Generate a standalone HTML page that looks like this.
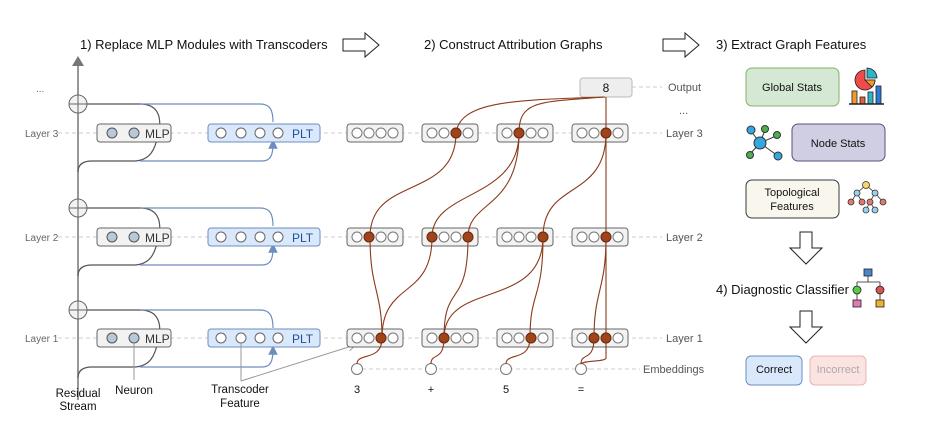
<!DOCTYPE html>
<html><head><meta charset="utf-8"><style>
html,body{margin:0;padding:0;background:#fff;}
svg{display:block;font-family:"Liberation Sans",Arial,sans-serif;}
</style></head><body>
<svg width="940" height="424" viewBox="0 0 940 424" xmlns="http://www.w3.org/2000/svg">
<defs>
<marker id="ab" markerWidth="8" markerHeight="8" refX="4" refY="4" orient="auto"><path d="M0,0 L8,4 L0,8 z" fill="#6c8ebf"/></marker>
<marker id="ag" markerWidth="8" markerHeight="8" refX="7" refY="4" orient="auto"><path d="M0,0 L8,4 L0,8" fill="none" stroke="#999"/></marker>
</defs>
<g font-size="13" fill="#111">
<text x="80" y="49">1) Replace MLP Modules with Transcoders</text>
<text x="424" y="49">2) Construct Attribution Graphs</text>
<text x="716" y="49">3) Extract Graph Features</text>
<text x="716" y="294">4) Diagnostic Classifier</text>
</g>
<g fill="#fff" stroke="#222" stroke-width="1">
<path d="M343,39 h22 v-6 l14,12 l-14,12 v-6 h-22z"/>
<path d="M663,39 h22 v-6 l14,12 l-14,12 v-6 h-22z"/>
<path d="M800,232 h12 v16 h10 l-16,16 l-16,-16 h10z"/>
<path d="M800,311 h12 v16 h10 l-16,16 l-16,-16 h10z"/>
</g>
<g stroke="#ccc" stroke-dasharray="4,3" stroke-width="1">
<line x1="58" y1="133" x2="662" y2="133"/>
<line x1="58" y1="237" x2="662" y2="237"/>
<line x1="58" y1="338" x2="662" y2="338"/>
<line x1="590" y1="369" x2="640" y2="369"/>
<line x1="355" y1="369" x2="590" y2="369"/>
<line x1="632" y1="87" x2="662" y2="87"/>
</g>
<g font-size="10" fill="#666">
<text x="25" y="137">Layer 3</text><text x="25" y="241">Layer 2</text><text x="25" y="342">Layer 1</text>
<text x="36" y="92">...</text>
</g>
<g font-size="11" fill="#555">
<text x="668" y="91">Output</text><text x="679" y="114">...</text>
<text x="666" y="137">Layer 3</text><text x="666" y="241">Layer 2</text><text x="666" y="342">Layer 1</text>
<text x="643" y="373">Embeddings</text>
</g>
<line x1="78" y1="400" x2="78" y2="62" stroke="#777" stroke-width="1.5"/>
<path d="M72,66 L78,56 L84,66z" fill="#777"/>
<g fill="none" stroke-width="1.2">
<path d="M87,104 H140 C160,104 162,120 158,135 C155,150 150,160 135,161 H92 C82,161 78,165 78,172" stroke="#555"/>
<path d="M140,104 H260 C270,104 273,110 273,122" stroke="#6c8ebf"/>
<path d="M140,161 H262 C270,161 273,156 273,144" stroke="#6c8ebf" marker-end="url(#ab)"/>
<path d="M87,208 H140 C160,208 162,224 158,239 C155,254 150,264 135,265 H92 C82,265 78,269 78,276" stroke="#555"/>
<path d="M140,208 H260 C270,208 273,214 273,226" stroke="#6c8ebf"/>
<path d="M140,265 H262 C270,265 273,260 273,248" stroke="#6c8ebf" marker-end="url(#ab)"/>
<path d="M87,310 H140 C160,310 162,326 158,341 C155,356 150,366 135,367 H92 C82,367 78,371 78,378" stroke="#555"/>
<path d="M140,310 H260 C270,310 273,316 273,328" stroke="#6c8ebf"/>
<path d="M140,367 H262 C270,367 273,362 273,350" stroke="#6c8ebf" marker-end="url(#ab)"/>
</g>
<g fill="#f2f2f2" stroke="#666" stroke-width="1">
<circle cx="78" cy="104" r="9"/><circle cx="78" cy="208" r="9"/><circle cx="78" cy="310" r="9"/>
</g>
<g stroke="#666" stroke-width="1"><path d="M69,104h18M78,95v18M69,208h18M78,199v18M69,310h18M78,301v18"/></g>
<g font-size="12">
<g>
<rect x="97" y="124" width="74" height="18" rx="3" fill="#f2f2f2" stroke="#666"/>
<circle cx="112" cy="133" r="5" fill="#b8c8d8" stroke="#555"/><circle cx="134" cy="133" r="5" fill="#b8c8d8" stroke="#555"/>
<text x="145" y="138" fill="#333">MLP</text>
<rect x="208" y="124" width="112" height="18" rx="3" fill="#dae8fc" stroke="#6c8ebf"/>
<circle cx="221" cy="133" r="5" fill="#fff" stroke="#666"/><circle cx="241" cy="133" r="5" fill="#fff" stroke="#666"/><circle cx="260" cy="133" r="5" fill="#fff" stroke="#666"/><circle cx="278" cy="133" r="5" fill="#fff" stroke="#666"/>
<text x="292" y="138" fill="#1f4e9a">PLT</text>
</g>
<g transform="translate(0,104)">
<rect x="97" y="124" width="74" height="18" rx="3" fill="#f2f2f2" stroke="#666"/>
<circle cx="112" cy="133" r="5" fill="#b8c8d8" stroke="#555"/><circle cx="134" cy="133" r="5" fill="#b8c8d8" stroke="#555"/>
<text x="145" y="138" fill="#333">MLP</text>
<rect x="208" y="124" width="112" height="18" rx="3" fill="#dae8fc" stroke="#6c8ebf"/>
<circle cx="221" cy="133" r="5" fill="#fff" stroke="#666"/><circle cx="241" cy="133" r="5" fill="#fff" stroke="#666"/><circle cx="260" cy="133" r="5" fill="#fff" stroke="#666"/><circle cx="278" cy="133" r="5" fill="#fff" stroke="#666"/>
<text x="292" y="138" fill="#1f4e9a">PLT</text>
</g>
<g transform="translate(0,205)">
<rect x="97" y="124" width="74" height="18" rx="3" fill="#f2f2f2" stroke="#666"/>
<circle cx="112" cy="133" r="5" fill="#b8c8d8" stroke="#555"/><circle cx="134" cy="133" r="5" fill="#b8c8d8" stroke="#555"/>
<text x="145" y="138" fill="#333">MLP</text>
<rect x="208" y="124" width="112" height="18" rx="3" fill="#dae8fc" stroke="#6c8ebf"/>
<circle cx="221" cy="133" r="5" fill="#fff" stroke="#666"/><circle cx="241" cy="133" r="5" fill="#fff" stroke="#666"/><circle cx="260" cy="133" r="5" fill="#fff" stroke="#666"/><circle cx="278" cy="133" r="5" fill="#fff" stroke="#666"/>
<text x="292" y="138" fill="#1f4e9a">PLT</text>
</g>
</g>
<g stroke="#999" stroke-width="1" fill="none">
<line x1="134" y1="343" x2="134" y2="380"/>
<line x1="241" y1="343" x2="241" y2="381"/>
<line x1="241" y1="381" x2="355" y2="345" marker-end="url(#ag)"/>
</g>
<g font-size="11.5" fill="#111" text-anchor="middle">
<text x="78" y="397">Residual</text><text x="78" y="410">Stream</text>
<text x="134" y="394">Neuron</text>
<text x="240" y="393">Transcoder</text><text x="240" y="407">Feature</text>
</g>
<g fill="#f2f2f2" stroke="#666">
<rect x="347" y="124" width="56" height="18" rx="3"/><rect x="422" y="124" width="56" height="18" rx="3"/><rect x="497" y="124" width="56" height="18" rx="3"/><rect x="572" y="124" width="56" height="18" rx="3"/>
<rect x="347" y="228" width="56" height="18" rx="3"/><rect x="422" y="228" width="56" height="18" rx="3"/><rect x="497" y="228" width="56" height="18" rx="3"/><rect x="572" y="228" width="56" height="18" rx="3"/>
<rect x="347" y="329" width="56" height="18" rx="3"/><rect x="422" y="329" width="56" height="18" rx="3"/><rect x="497" y="329" width="56" height="18" rx="3"/><rect x="572" y="329" width="56" height="18" rx="3"/>
<rect x="580" y="78" width="52" height="19" rx="3" fill="#eee" stroke="#bbb"/>
</g>
<text x="606" y="92" font-size="12" text-anchor="middle" fill="#111">8</text>
<g fill="#fff" stroke="#777">
<circle cx="357" cy="133" r="5"/><circle cx="369" cy="133" r="5"/><circle cx="381" cy="133" r="5"/><circle cx="393" cy="133" r="5"/>
<circle cx="432" cy="133" r="5"/><circle cx="444" cy="133" r="5"/><circle cx="456" cy="133" r="5"/><circle cx="468" cy="133" r="5"/>
<circle cx="507" cy="133" r="5"/><circle cx="519" cy="133" r="5"/><circle cx="531" cy="133" r="5"/><circle cx="543" cy="133" r="5"/>
<circle cx="582" cy="133" r="5"/><circle cx="594" cy="133" r="5"/><circle cx="606" cy="133" r="5"/><circle cx="618" cy="133" r="5"/>
<circle cx="357" cy="237" r="5"/><circle cx="369" cy="237" r="5"/><circle cx="381" cy="237" r="5"/><circle cx="393" cy="237" r="5"/>
<circle cx="432" cy="237" r="5"/><circle cx="444" cy="237" r="5"/><circle cx="456" cy="237" r="5"/><circle cx="468" cy="237" r="5"/>
<circle cx="507" cy="237" r="5"/><circle cx="519" cy="237" r="5"/><circle cx="531" cy="237" r="5"/><circle cx="543" cy="237" r="5"/>
<circle cx="582" cy="237" r="5"/><circle cx="594" cy="237" r="5"/><circle cx="606" cy="237" r="5"/><circle cx="618" cy="237" r="5"/>
<circle cx="357" cy="338" r="5"/><circle cx="369" cy="338" r="5"/><circle cx="381" cy="338" r="5"/><circle cx="393" cy="338" r="5"/>
<circle cx="432" cy="338" r="5"/><circle cx="444" cy="338" r="5"/><circle cx="456" cy="338" r="5"/><circle cx="468" cy="338" r="5"/>
<circle cx="507" cy="338" r="5"/><circle cx="519" cy="338" r="5"/><circle cx="531" cy="338" r="5"/><circle cx="543" cy="338" r="5"/>
<circle cx="582" cy="338" r="5"/><circle cx="594" cy="338" r="5"/><circle cx="606" cy="338" r="5"/><circle cx="618" cy="338" r="5"/>
<circle cx="357" cy="369" r="5.5"/><circle cx="431" cy="369" r="5.5"/><circle cx="506" cy="369" r="5.5"/><circle cx="581" cy="369" r="5.5"/>
</g>
<g font-size="11" fill="#111" text-anchor="middle">
<text x="357" y="393">3</text><text x="431" y="393">+</text><text x="506" y="393">5</text><text x="581" y="393">=</text>
</g>
<g fill="none" stroke="#8b3a1a" stroke-width="1.1">
<path d="M605,97 C520,100 460,100 456,133"/>
<path d="M605,97 C540,102 519,100 519,133"/>
<path d="M606,97 V338 V358 C606,362 584,360 581,364"/>
<path d="M456,133 C456,200 370,175 370,237"/>
<path d="M519,133 C519,200 432,190 432,237"/>
<path d="M519,133 C519,210 468,200 468,237"/>
<path d="M606,133 C606,200 543,180 543,237"/>
<path d="M370,237 C370,290 382,290 382,338"/>
<path d="M432,237 C432,300 382,280 382,338"/>
<path d="M468,237 C468,310 444,280 444,338"/>
<path d="M543,237 C543,310 444,280 444,338"/>
<path d="M543,237 C543,300 530,290 530,338"/>
<path d="M606,237 C606,290 594,290 594,338"/>
<path d="M382,338 C382,362 357,352 357,364"/>
<path d="M444,338 C444,362 431,352 431,364"/>
<path d="M530,338 C530,362 506,352 506,364"/>
<path d="M594,338 C594,362 581,352 581,364"/>
</g>
<g fill="#a0451a" stroke="#6b2a10">
<circle cx="456" cy="133" r="5"/><circle cx="519" cy="133" r="5"/><circle cx="606" cy="133" r="5"/>
<circle cx="369" cy="237" r="5"/><circle cx="432" cy="237" r="5"/><circle cx="468" cy="237" r="5"/><circle cx="543" cy="237" r="5"/><circle cx="606" cy="237" r="5"/>
<circle cx="381" cy="338" r="5"/><circle cx="444" cy="338" r="5"/><circle cx="531" cy="338" r="5"/><circle cx="594" cy="338" r="5"/><circle cx="606" cy="338" r="5"/>
</g>
<g font-size="11" text-anchor="middle" fill="#111">
<rect x="746" y="68" width="93" height="38" rx="6" fill="#d5e8d4" stroke="#82b366"/><text x="792" y="91">Global Stats</text>
<rect x="792" y="124" width="93" height="37" rx="6" fill="#d0cee2" stroke="#56517e"/><text x="838" y="147">Node Stats</text>
<rect x="746" y="180" width="93" height="38" rx="6" fill="#f9f7ed" stroke="#36393d"/><text x="792" y="196">Topological</text><text x="792" y="210">Features</text>
<rect x="746" y="356" width="56" height="29" rx="5" fill="#dae8fc" stroke="#6c8ebf"/><text x="774" y="373">Correct</text>
<rect x="810" y="356" width="56" height="29" rx="5" fill="#fbe3e2" stroke="#e8b5b3"/><text x="838" y="373" fill="#aaa">Incorrect</text>
</g>
<g stroke="#222" stroke-width="0.8">
<path d="M865,80 L875,80 A10,10 0 1 1 865,70 Z" fill="#ef4b4b"/>
<path d="M867,68 A10,10 0 0 1 877,78 L867,78 Z" fill="#2fb5c8"/>
<path d="M865,80 L875,80 A10,10 0 0 1 872,87 Z" fill="#f29b2b"/>
<rect x="852" y="91" width="5" height="13" fill="#f29b2b"/><rect x="860" y="97" width="5" height="7" fill="#e0603a"/><rect x="868" y="92" width="5" height="12" fill="#2fb5c8"/><rect x="876" y="86" width="5" height="18" fill="#2b7bd6"/>
<line x1="849" y1="104" x2="884" y2="104" stroke-width="1.5"/>
</g>
<g stroke="#333" stroke-width="1">
<line x1="760" y1="143" x2="751" y2="131"/><line x1="760" y1="143" x2="765" y2="130"/><line x1="760" y1="143" x2="776" y2="136"/><line x1="760" y1="143" x2="750" y2="154"/><line x1="760" y1="143" x2="778" y2="156"/>
<circle cx="760" cy="143" r="6" fill="#35a7e0"/><circle cx="751" cy="130" r="4" fill="#35a7e0"/><circle cx="778" cy="156" r="4" fill="#35a7e0"/>
<circle cx="765" cy="129" r="3.5" fill="#4caf50"/><circle cx="777" cy="135" r="3.5" fill="#4caf50"/><circle cx="750" cy="155" r="3.5" fill="#4caf50"/>
</g>
<g stroke="#333" stroke-width="0.8">
<path d="M866,185 L857,193 L851,202 M857,193 L862,202 M866,185 L875,193 L870,202 M875,193 L883,202 M870,202 L866,210 M870,202 L875,210" fill="none"/>
<circle cx="866" cy="185" r="3.5" fill="#f5d76e"/><circle cx="857" cy="193" r="3" fill="#9ad0ec"/><circle cx="875" cy="193" r="3" fill="#9ad0ec"/>
<circle cx="851" cy="202" r="3" fill="#e07a6f"/><circle cx="862" cy="202" r="3" fill="#e07a6f"/><circle cx="870" cy="202" r="3" fill="#e07a6f"/><circle cx="883" cy="202" r="3" fill="#e07a6f"/>
<circle cx="866" cy="210" r="3" fill="#9ad0ec"/><circle cx="875" cy="210" r="3" fill="#9ad0ec"/>
</g>
<g stroke="#222" stroke-width="0.8">
<path d="M868,276 V282 M857,282 H880 M857,282 V286 M880,282 V286 M857,294 V300 M880,294 V300" fill="none"/>
<rect x="864" y="269" width="8" height="7" fill="#4a86c8"/>
<circle cx="857" cy="290" r="4" fill="#55cc44"/><circle cx="880" cy="290" r="4" fill="#d9534f"/>
<rect x="853" y="300" width="8" height="7" fill="#e07ab0"/><rect x="876" y="300" width="8" height="7" fill="#f0b030"/>
</g>
</svg>
</body></html>
